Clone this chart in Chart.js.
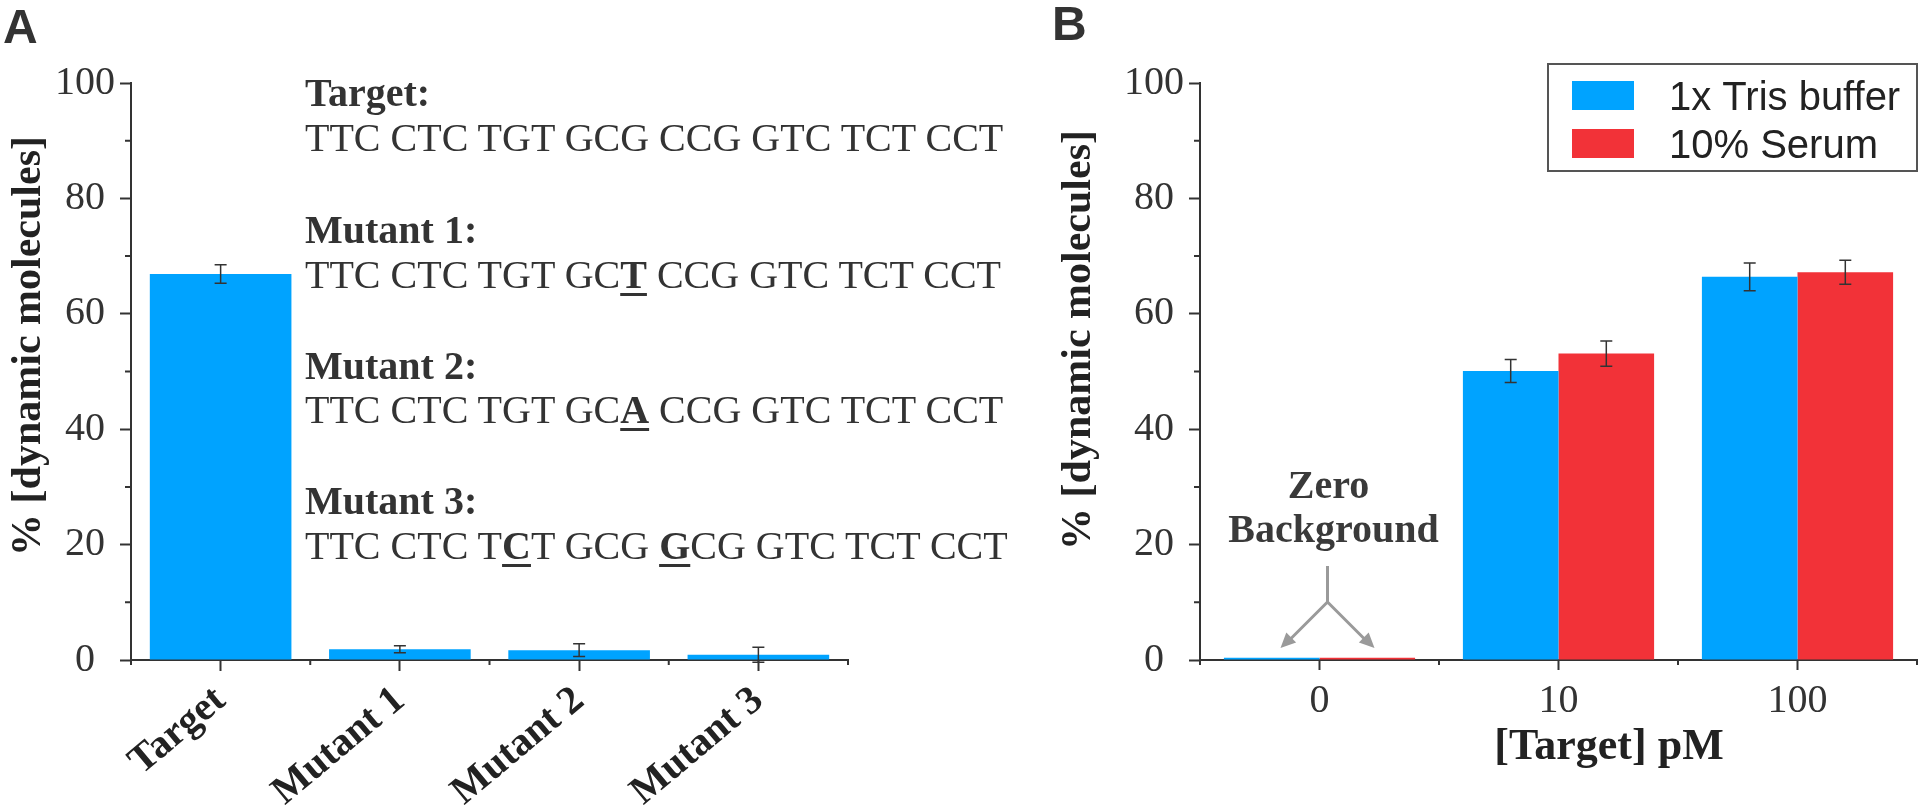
<!DOCTYPE html>
<html>
<head>
<meta charset="utf-8">
<script src="https://cdn.jsdelivr.net/npm/chart.js@4.4.1/dist/chart.umd.min.js"></script>
<style>
  html, body { margin: 0; padding: 0; background: #fff; }
  #wrap { position: relative; width: 1920px; height: 810px; overflow: hidden; }
  canvas { position: absolute; top: 0; }
  #chartA { left: 0; }
  #chartB { left: 960px; }
  .panel { position: absolute; font-family: "Liberation Sans", Arial, sans-serif; font-weight: bold;
           font-size: 48px; line-height: 48px; color: #333; }
  .seq { position: absolute; left: 305px; font-family: "Liberation Serif", "Times New Roman", serif;
         font-size: 40px; line-height: 40px; color: #333; white-space: nowrap; }
  .seq.head { font-weight: bold; }
  .seq u { font-weight: bold; text-decoration-thickness: 3px; text-underline-offset: 5px; }
</style>
</head>
<body>
<div id="wrap">
  <canvas id="chartA" width="960" height="810"></canvas>
  <canvas id="chartB" width="960" height="810"></canvas>

  <div class="panel" style="left:3px; top:3px;">A</div>
  <div class="panel" style="left:1052px; top:0px;">B</div>

  <div class="seq head" style="top:73px;">Target:</div>
  <div class="seq" style="top:118px;">TTC CTC TGT GCG CCG GTC TCT CCT</div>
  <div class="seq head" style="top:210px;">Mutant 1:</div>
  <div class="seq" style="top:255px;">TTC CTC TGT GC<u>T</u> CCG GTC TCT CCT</div>
  <div class="seq head" style="top:346px;">Mutant 2:</div>
  <div class="seq" style="top:390px;">TTC CTC TGT GC<u>A</u> CCG GTC TCT CCT</div>
  <div class="seq head" style="top:481px;">Mutant 3:</div>
  <div class="seq" style="top:526px;">TTC CTC T<u>C</u>T GCG <u>G</u>CG GTC TCT CCT</div>
</div>

<script>
// ---- data ----
const categoriesA = ['Target', 'Mutant 1', 'Mutant 2', 'Mutant 3'];
const valuesA = [66.9, 1.85, 1.7, 0.9];
const errorsA = [1.6, 0.6, 1.1, 1.3];

const categoriesB = ['0', '10', '100'];
const trisValues = [0.4, 50.1, 66.4];
const trisErrors = [0, 2.0, 2.4];
const serumValues = [0.4, 53.1, 67.2];
const serumErrors = [0, 2.2, 2.1];

const yTitle = '% [dynamic molecules]';
const xTitleB = '[Target] pM';

const BLUE = '#00a3ff';
const RED = '#f23238';
const AXIS = '#333';
const SERIF = '"Liberation Serif", "Times New Roman", serif';
const SANS = '"Liberation Sans", Arial, sans-serif';

// error bars from dataset.errors
const errorBars = {
    id: 'errorBars',
    afterDatasetsDraw(chart) {
        const ctx = chart.ctx;
        const y = chart.scales.y;
        ctx.save();
        ctx.strokeStyle = '#333';
        ctx.lineWidth = 1.5;
        chart.data.datasets.forEach((ds, i) => {
            chart.getDatasetMeta(i).data.forEach((bar, j) => {
                const e = ds.errors[j];
                if (!e) return;
                const top = y.getPixelForValue(ds.data[j] + e);
                const bot = y.getPixelForValue(ds.data[j] - e);
                ctx.beginPath();
                ctx.moveTo(bar.x, top); ctx.lineTo(bar.x, bot);
                ctx.moveTo(bar.x - 6, top); ctx.lineTo(bar.x + 6, top);
                ctx.moveTo(bar.x - 6, bot); ctx.lineTo(bar.x + 6, bot);
                ctx.stroke();
            });
        });
        ctx.restore();
    }
};

// minor ticks + axis titles
const axisExtras = {
    id: 'axisExtras',
    afterDraw(chart, args, opts) {
        const ctx = chart.ctx;
        const area = chart.chartArea;
        const y = chart.scales.y;
        ctx.save();
        ctx.strokeStyle = AXIS;
        ctx.lineWidth = 2;
        ctx.beginPath();
        [10, 30, 50, 70, 90].forEach(v => {
            const py = y.getPixelForValue(v);
            ctx.moveTo(area.left - 6, py); ctx.lineTo(area.left, py);
        });
        const n = chart.data.labels.length;
        for (let i = 0; i <= n; i++) {
            const px = area.left + i * (area.right - area.left) / n;
            ctx.moveTo(px, area.bottom); ctx.lineTo(px, area.bottom + 5);
        }
        ctx.stroke();

        ctx.fillStyle = '#222';
        ctx.font = 'bold 42px ' + SERIF;
        ctx.textAlign = 'center';
        ctx.textBaseline = 'middle';
        ctx.save();
        ctx.translate(opts.yTitleX, opts.yTitleY);
        ctx.rotate(-Math.PI / 2);
        ctx.fillText(yTitle, 0, 0);
        ctx.restore();

        if (opts.xTitle) {
            ctx.font = 'bold 44px ' + SERIF;
            ctx.textBaseline = 'alphabetic';
            ctx.fillText(opts.xTitle, opts.xTitleX, opts.xTitleY);
        }
        ctx.restore();
    }
};

// legend box and zero-background note for panel B
const panelBExtras = {
    id: 'panelBExtras',
    afterDraw(chart) {
        const ctx = chart.ctx;
        const area = chart.chartArea;
        const x = chart.scales.x, y = chart.scales.y;
        ctx.save();

        // legend
        const right = area.right, left = right - 369, top = 64;
        ctx.strokeStyle = '#555';
        ctx.lineWidth = 2;
        ctx.strokeRect(left, top, right - left, 107);
        ctx.font = '40px ' + SANS;
        ctx.textAlign = 'left';
        ctx.textBaseline = 'alphabetic';
        chart.data.datasets.forEach((ds, i) => {
            const sy = top + 17 + i * 48;
            ctx.fillStyle = ds.backgroundColor;
            ctx.fillRect(left + 24, sy, 62, 29);
            ctx.fillStyle = '#222';
            ctx.fillText(ds.label, left + 121, sy + 29);
        });

        // zero background annotation
        const cx = x.getPixelForValue(0) + 8;
        const base = y.getPixelForValue(0);
        ctx.fillStyle = '#3a3a3a';
        ctx.font = 'bold 40px ' + SERIF;
        ctx.textAlign = 'center';
        ctx.fillText('Zero', cx + 1, base - 162);
        ctx.fillText('Background', cx + 6, base - 118);

        ctx.strokeStyle = '#9a9a9a';
        ctx.fillStyle = '#9a9a9a';
        ctx.lineWidth = 3;
        const jy = base - 58;
        ctx.beginPath();
        ctx.moveTo(cx, base - 94); ctx.lineTo(cx, jy);
        ctx.moveTo(cx, jy); ctx.lineTo(cx - 38, base - 20);
        ctx.moveTo(cx, jy); ctx.lineTo(cx + 38, base - 20);
        ctx.stroke();
        [-1, 1].forEach(s => {
            const tx = cx + s * 47, ty = base - 12;
            const ang = Math.atan2(ty - jy, tx - cx);
            ctx.beginPath();
            ctx.moveTo(tx, ty);
            ctx.lineTo(tx - 15 * Math.cos(ang) + 7 * Math.sin(ang), ty - 15 * Math.sin(ang) - 7 * Math.cos(ang));
            ctx.lineTo(tx - 15 * Math.cos(ang) - 7 * Math.sin(ang), ty - 15 * Math.sin(ang) + 7 * Math.cos(ang));
            ctx.closePath();
            ctx.fill();
        });
        ctx.restore();
    }
};

function yScale(width) {
    return {
        min: 0,
        max: 100,
        ticks: {
            stepSize: 10,
            callback: v => (v % 20 === 0 ? v : ''),
            font: { family: SERIF, size: 40 },
            color: '#333',
            padding: 5,
            crossAlign: 'center'
        },
        grid: {
            drawOnChartArea: false,
            tickLength: 11,
            tickWidth: 2,
            tickColor: c => (c.tick && c.tick.value % 20 === 0 ? AXIS : 'rgba(0,0,0,0)')
        },
        border: { color: AXIS, width: 2 },
        afterFit: s => { s.width = width; }
    };
}

new Chart(document.getElementById('chartA'), {
    type: 'bar',
    data: {
        labels: categoriesA,
        datasets: [{
            data: valuesA,
            errors: errorsA,
            backgroundColor: BLUE,
            barPercentage: 0.79,
            categoryPercentage: 1
        }]
    },
    options: {
        responsive: false,
        animation: false,
        layout: { padding: { left: 0, top: 83, right: 112, bottom: 0 } },
        plugins: {
            legend: { display: false },
            tooltip: { enabled: false },
            axisExtras: { yTitleX: 29, yTitleY: 346 }
        },
        scales: {
            x: {
                offset: true,
                ticks: {
                    font: { family: SERIF, size: 40, weight: 'bold' },
                    color: '#222',
                    minRotation: 40,
                    maxRotation: 40,
                    autoSkip: false,
                    padding: 6
                },
                grid: { drawOnChartArea: false, offset: false, tickLength: 11, tickWidth: 2, tickColor: AXIS },
                border: { color: AXIS, width: 2 },
                afterFit: s => { s.height = 150; }
            },
            y: yScale(131)
        }
    },
    plugins: [axisExtras, errorBars]
});

new Chart(document.getElementById('chartB'), {
    type: 'bar',
    data: {
        labels: categoriesB,
        datasets: [
            { label: '1x Tris buffer', data: trisValues, errors: trisErrors, backgroundColor: BLUE,
              barPercentage: 1, categoryPercentage: 0.8 },
            { label: '10% Serum', data: serumValues, errors: serumErrors, backgroundColor: RED,
              barPercentage: 1, categoryPercentage: 0.8 }
        ]
    },
    options: {
        responsive: false,
        animation: false,
        layout: { padding: { left: 0, top: 83, right: 3, bottom: 0 } },
        plugins: {
            legend: { display: false },
            tooltip: { enabled: false },
            axisExtras: { yTitleX: 119, yTitleY: 340, xTitle: xTitleB, xTitleX: 649, xTitleY: 759 }
        },
        scales: {
            x: {
                offset: true,
                ticks: {
                    font: { family: SERIF, size: 40 },
                    color: '#333',
                    maxRotation: 0,
                    autoSkip: false,
                    padding: 7
                },
                grid: { drawOnChartArea: false, offset: false, tickLength: 10, tickWidth: 2, tickColor: AXIS },
                border: { color: AXIS, width: 2 },
                afterFit: s => { s.height = 150; }
            },
            y: yScale(240)
        }
    },
    plugins: [axisExtras, errorBars, panelBExtras]
});
</script>
</body>
</html>
